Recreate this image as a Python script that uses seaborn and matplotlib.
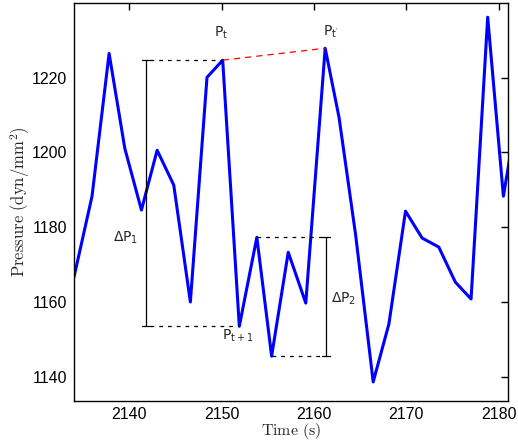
import matplotlib
matplotlib.use("Agg")
import matplotlib.pyplot as plt
import seaborn as sns
import pandas as pd

# Pressure trace sampled roughly every 1.8 s
time_s = [2134.0, 2135.95, 2137.8, 2139.5, 2141.3, 2143.0, 2144.8, 2146.6,
          2148.4, 2150.1, 2151.9, 2153.8, 2155.4, 2157.2, 2159.1, 2161.2,
          2162.7, 2164.5, 2166.4, 2168.1, 2169.9, 2171.7, 2173.5, 2175.3,
          2177.0, 2178.8, 2180.5, 2182.3]
pressure = [1166.7, 1188.3, 1226.5, 1201.1, 1184.6, 1200.6, 1191.3, 1160.0,
            1220.1, 1224.7, 1153.5, 1177.3, 1145.5, 1173.3, 1159.7, 1227.9,
            1209.4, 1177.9, 1138.6, 1154.1, 1184.3, 1177.1, 1174.7, 1165.3,
            1160.8, 1236.2, 1188.3, 1215.0]

x_ticks = [2140, 2150, 2160, 2170, 2180]
y_ticks = [1140, 1160, 1180, 1200, 1220]

# Indices of the marked samples
i_pt, i_pt1, i_ptp = 9, 10, 15      # P_t, P_{t+1}, P_t'
i_hi2, i_lo2 = 11, 12               # range for ΔP2

sns.set_style("white")
plt.rcParams["font.family"] = ["DejaVu Sans"]
plt.rcParams["mathtext.default"] = "regular"

df = pd.DataFrame({"Time (s)": time_s, "Pressure": pressure})

fig = plt.figure(figsize=(5.18, 4.43), dpi=100)
ax = fig.add_axes([0.1429, 0.0948, 0.8378, 0.8984])

sns.lineplot(data=df, x="Time (s)", y="Pressure", ax=ax, color="#0000ff",
             linewidth=2.2, clip_on=True)

# ΔP1 bracket: from P_t down to P_{t+1}
x1 = 2141.8
p_top, p_bot = pressure[i_pt], pressure[i_pt1]
ax.plot([x1, x1], [p_bot, p_top], color="black", lw=0.9)
ax.plot([x1 - 0.45, x1 + 0.45], [p_top, p_top], color="black", lw=0.9)
ax.plot([x1 - 0.45, x1 + 0.45], [p_bot, p_bot], color="black", lw=0.9)
ax.plot([x1 + 0.45, time_s[i_pt]], [p_top, p_top], color="black", lw=0.9,
        ls=(0, (3, 4)))
ax.plot([x1 + 0.45, time_s[i_pt1]], [p_bot, p_bot], color="black", lw=0.9,
        ls=(0, (3, 4)))
ax.text(2139.6, 1177.3, r"$\Delta P_1$", fontsize=10, ha="center", va="center")

# ΔP2 bracket
x2 = 2161.3
q_top, q_bot = pressure[i_hi2], pressure[i_lo2]
ax.plot([x2, x2], [q_bot, q_top], color="black", lw=0.9)
ax.plot([x2 - 0.45, x2 + 0.45], [q_top, q_top], color="black", lw=0.9)
ax.plot([x2 - 0.45, x2 + 0.45], [q_bot, q_bot], color="black", lw=0.9)
ax.plot([time_s[i_hi2], x2 - 0.45], [q_top, q_top], color="black", lw=0.9,
        ls=(0, (3, 4)))
ax.plot([time_s[i_lo2], x2 - 0.45], [q_bot, q_bot], color="black", lw=0.9,
        ls=(0, (3, 4)))
ax.text(2161.8, 1160.8, r"$\Delta P_2$", fontsize=10, ha="left", va="center")

# Link between P_t and P_t'
ax.plot([time_s[i_pt], time_s[i_ptp]], [pressure[i_pt], pressure[i_ptp]],
        color="red", lw=0.9, ls=(0, (5, 4)))

ax.text(2149.9, 1232.0, r"$P_t$", fontsize=10, ha="center", va="center")
ax.text(2161.8, 1232.2, r"$P_{t'}$", fontsize=10, ha="center", va="center")
ax.text(2151.7, 1151.0, r"$P_{t+1}$", fontsize=10, ha="center", va="center")

ax.set_xlim(2134, 2181)
ax.set_ylim(1133.5, 1240)
ax.set_xticks(x_ticks)
ax.set_yticks(y_ticks)
ax.set_xticklabels([str(v) for v in x_ticks], fontfamily="Liberation Sans",
                   fontsize=11.5)
ax.set_yticklabels([str(v) for v in y_ticks], fontfamily="Liberation Sans",
                   fontsize=11.5)
ax.tick_params(direction="in", length=5, width=1, top=True, right=True,
               colors="black")
ax.tick_params(axis="x", pad=4)
ax.tick_params(axis="y", pad=5)
for s in ax.spines.values():
    s.set_color("black")
    s.set_linewidth(1.0)

ax.set_xlabel(r"$\mathrm{Time\ (s)}$", fontsize=11.5, labelpad=-0.5,
              math_fontfamily="cm")
ax.set_ylabel(r"$\mathrm{Pressure\ (dyn/mm^2)}$", fontsize=12, labelpad=0,
              math_fontfamily="cm")

fig.savefig("out.png", dpi=100)
